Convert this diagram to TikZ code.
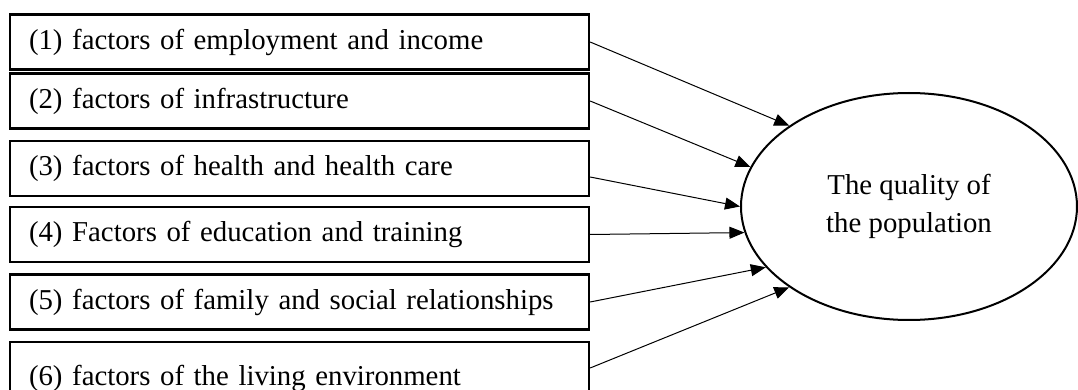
\documentclass[tikz,border=0pt]{standalone}
\usepackage{fontspec}
\setmainfont{Liberation Serif}
\usetikzlibrary{arrows.meta,shapes.geometric}
\tikzset{
  factor/.style={shape=rectangle,draw=black,line width=1.15pt,text width=270.5pt,
    inner xsep=9.5pt,inner ysep=0pt,minimum height=27.5pt,align=left,
    font=\fontsize{14.4}{18.5}\selectfont},
  outcome/.style={shape=ellipse,draw=black,line width=1pt,minimum width=168pt,
    minimum height=113.5pt,inner sep=0pt,align=center,
    font=\fontsize{14.4}{18.8}\selectfont},
  effect/.style={-{Triangle[length=7.5pt,width=6pt]},line width=0.5pt},
}
\begin{document}
\begin{tikzpicture}[x=0.5pt,y=-0.5pt]
      \clip (0,0) rectangle (1078,390);
      \draw
        (299.5, 42.0) node[factor] (f1){(1) factors of employment and income}
        (299.5, 101.0) node[factor] (f2){(2) factors of infrastructure}
        (299.5, 168.5) node[factor] (f3){(3) factors of health and health care}
        (299.5, 234.5) node[factor] (f4){(4) Factors of education and training}
        (299.5, 302.0) node[factor] (f5){(5) factors of family and social relationships}
        (299.5, 378.0) node[factor,minimum height=36pt] (f6){(6) factors of the living environment}
        (909.0, 206.5) node[outcome] (q){The quality of\\the population};
      \begin{scope}[effect]
        \draw (f1.east) -- (q.146.7);
        \draw (f2.east) -- (q.166);
        \draw ([yshift=-4.25pt]f3.east) -- (q.180);
        \draw (f4.east) -- (q.189.3);
        \draw (f5.east) -- (q.203.1);
        \draw ([yshift=5pt]f6.east) -- (q.214.3);
      \end{scope}
    \end{tikzpicture}
\end{document}
